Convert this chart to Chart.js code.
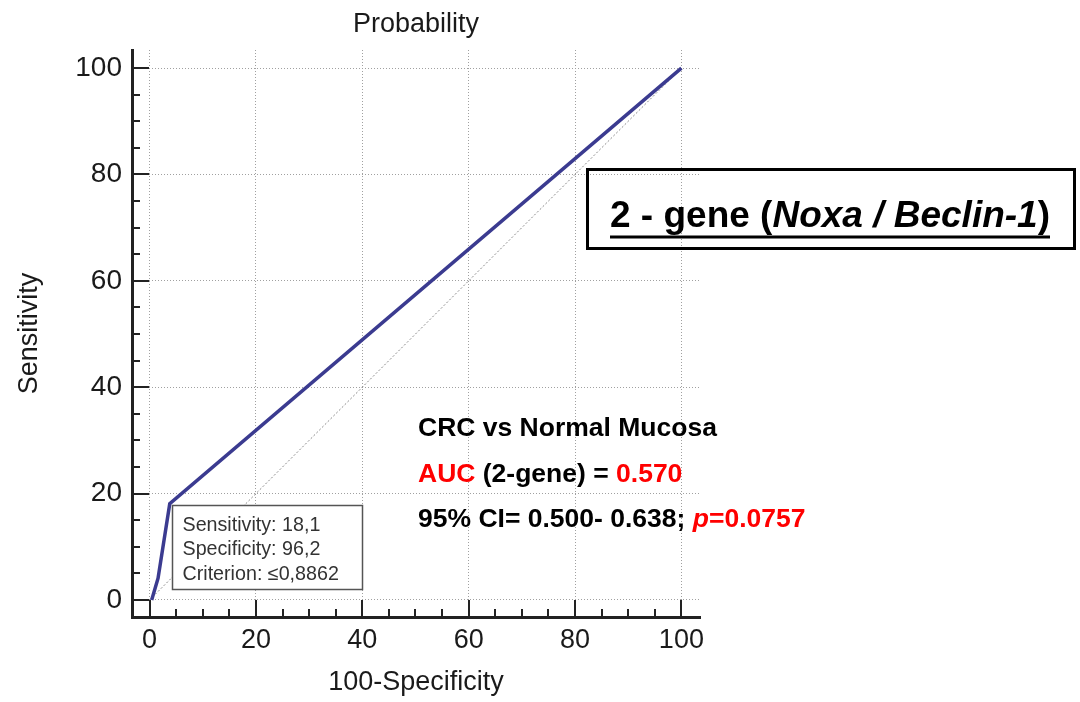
<!DOCTYPE html>
<html>
<head>
<meta charset="utf-8">
<script src="https://cdn.jsdelivr.net/npm/chart.js@4.4.0/dist/chart.umd.min.js"></script>
<style>
html, body { margin: 0; padding: 0; background: #fff; }
#wrap { width: 1080px; height: 702px; }
</style>
</head>
<body>
<div id="wrap"><canvas id="roc" width="1080" height="702"></canvas></div>
<script>
// ROC curve (100-Specificity vs Sensitivity)
const rocX = [0.4, 1.6, 3.8, 100];
const rocY = [0, 4.1, 18.1, 100];
// reference diagonal
const diagX = [0, 100];
const diagY = [0, 100];
// axis ticks
const tickValues = [0, 5, 10, 15, 20, 25, 30, 35, 40, 45, 50, 55, 60, 65, 70, 75, 80, 85, 90, 95, 100];
const majorTicks = [0, 20, 40, 60, 80, 100];
// criterion point
const cutSens = 18.1;
const cutSpec = 96.2;
const criterion = '≤0,8862';

const FONT = "Arial, 'Liberation Sans', sans-serif";
const TXT = '#1a1a1a';

function pts(xs, ys) { return xs.map((v, i) => ({ x: v, y: ys[i] })); }
function decComma(v) { return String(v).replace('.', ','); }

// inward tick marks, major long / minor short
const axisTicks = {
    id: 'axisTicks',
    afterDraw(chart) {
        const { ctx, chartArea, scales: { x, y } } = chart;
        ctx.save();
        ctx.strokeStyle = '#222';
        ctx.lineWidth = 2;
        tickValues.forEach(v => {
            const len = majorTicks.includes(v) ? 17 : 8;
            const px = Math.round(x.getPixelForValue(v));
            ctx.beginPath();
            ctx.moveTo(px, chartArea.bottom);
            ctx.lineTo(px, chartArea.bottom - len);
            ctx.stroke();
            const py = Math.round(y.getPixelForValue(v));
            ctx.beginPath();
            ctx.moveTo(chartArea.left, py);
            ctx.lineTo(chartArea.left + len, py);
            ctx.stroke();
        });
        ctx.restore();
    }
};

function drawSegments(ctx, segs, x, y) {
    segs.forEach(s => {
        ctx.font = (s.italic ? 'italic ' : '') + 'bold ' + s.size + 'px ' + FONT;
        ctx.fillStyle = s.color;
        ctx.fillText(s.text, x, y);
        x += ctx.measureText(s.text).width;
    });
    return x;
}

const overlays = {
    id: 'overlays',
    afterDatasetsDraw(chart) {
        const { ctx, scales: { x, y } } = chart;
        // criterion box at the cut-off point
        const bx = Math.round(x.getPixelForValue(100 - cutSpec)) + 2.5;
        const by = Math.round(y.getPixelForValue(cutSens)) + 1.5;
        ctx.save();
        ctx.fillStyle = '#fff';
        ctx.fillRect(bx, by, 190, 84);
        ctx.strokeStyle = '#555';
        ctx.lineWidth = 1.5;
        ctx.strokeRect(bx, by, 190, 84);
        ctx.fillStyle = '#333';
        ctx.font = '19.7px ' + FONT;
        ctx.textBaseline = 'alphabetic';
        const lines = [
            'Sensitivity: ' + decComma(cutSens),
            'Specificity: ' + decComma(cutSpec),
            'Criterion: ' + criterion
        ];
        lines.forEach((t, i) => ctx.fillText(t, bx + 10, by + 25 + i * 24.5));
        ctx.restore();
    },
    afterDraw(chart) {
        const ctx = chart.ctx;
        ctx.save();
        ctx.textBaseline = 'alphabetic';
        // statistics text
        const red = '#ff0000', blk = '#000';
        const fs = 26.5;
        drawSegments(ctx, [{ text: 'CRC vs Normal Mucosa', color: blk, size: fs }], 418, 436);
        drawSegments(ctx, [
            { text: 'AUC', color: red, size: fs },
            { text: ' (2-gene) = ', color: blk, size: fs },
            { text: '0.570', color: red, size: fs }
        ], 418, 482);
        drawSegments(ctx, [
            { text: '95% CI= 0.500- 0.638; ', color: blk, size: fs },
            { text: 'p', color: red, size: fs, italic: true },
            { text: '=0.0757', color: red, size: fs }
        ], 418, 527);

        // title box
        ctx.strokeStyle = '#000';
        ctx.lineWidth = 3;
        ctx.strokeRect(587.5, 169.5, 487, 79);
        const segs = [
            { text: '2 - gene (', color: blk, size: 37 },
            { text: 'Noxa / Beclin-1', color: blk, size: 37, italic: true },
            { text: ')', color: blk, size: 37 }
        ];
        let w = 0;
        segs.forEach(s => {
            ctx.font = (s.italic ? 'italic ' : '') + 'bold ' + s.size + 'px ' + FONT;
            w += ctx.measureText(s.text).width;
        });
        const x0 = 830 - w / 2;
        const x1 = drawSegments(ctx, segs, x0, 227);
        ctx.fillStyle = '#000';
        ctx.fillRect(x0, 235.5, x1 - x0, 3);
        ctx.restore();
    }
};

const scaleFont = { family: FONT, size: 27 };

new Chart(document.getElementById('roc'), {
    type: 'scatter',
    data: {
        datasets: [
            {
                label: '2-gene',
                data: pts(rocX, rocY),
                showLine: true,
                borderColor: '#3b3b90',
                borderWidth: 3.5,
                pointRadius: 0,
                tension: 0
            },
            {
                label: 'reference',
                data: pts(diagX, diagY),
                showLine: true,
                borderColor: '#8a8a8a',
                borderWidth: 1,
                borderDash: [2, 2],
                pointRadius: 0
            }
        ]
    },
    options: {
        responsive: false,
        animation: false,
        layout: { padding: { top: 0, right: 380, bottom: 0, left: 0 } },
        plugins: {
            legend: { display: false },
            tooltip: { enabled: false },
            title: {
                display: true,
                fullSize: false,
                text: 'Probability',
                color: TXT,
                font: { family: FONT, size: 27, weight: 'normal' },
                padding: { top: 8, bottom: 9.6 }
            }
        },
        scales: {
            x: {
                type: 'linear',
                min: -3.3,
                max: 103.5,
                afterBuildTicks: s => { s.ticks = tickValues.map(v => ({ value: v })); },
                afterFit: s => { s.height = 85; },
                ticks: {
                    autoSkip: false,
                    maxRotation: 0,
                    padding: 7,
                    color: TXT,
                    font: scaleFont,
                    callback: v => majorTicks.includes(v) ? String(v) : ''
                },
                grid: {
                    drawTicks: false,
                    lineWidth: 1,
                    color: c => (c.tick && majorTicks.includes(c.tick.value)) ? '#a0a0a0' : 'rgba(0,0,0,0)'
                },
                border: { display: true, color: '#222', width: 3, dash: [1, 2] },
                title: {
                    display: true,
                    text: '100-Specificity',
                    color: TXT,
                    font: scaleFont,
                    padding: { top: 0, bottom: 3 }
                }
            },
            y: {
                type: 'linear',
                min: -3.2,
                max: 103.4,
                afterBuildTicks: s => { s.ticks = tickValues.map(v => ({ value: v })); },
                afterFit: s => { s.width = 132; },
                ticks: {
                    autoSkip: false,
                    padding: 10,
                    color: TXT,
                    font: { family: FONT, size: 28 },
                    callback: v => majorTicks.includes(v) ? String(v) : ''
                },
                grid: {
                    drawTicks: false,
                    lineWidth: 1,
                    color: c => (c.tick && majorTicks.includes(c.tick.value)) ? '#a0a0a0' : 'rgba(0,0,0,0)'
                },
                border: { display: true, color: '#222', width: 3, dash: [1, 2] },
                title: {
                    display: true,
                    text: 'Sensitivity',
                    color: TXT,
                    font: scaleFont,
                    padding: { top: 13, bottom: 0 }
                }
            }
        }
    },
    plugins: [axisTicks, overlays]
});
</script>
</body>
</html>
